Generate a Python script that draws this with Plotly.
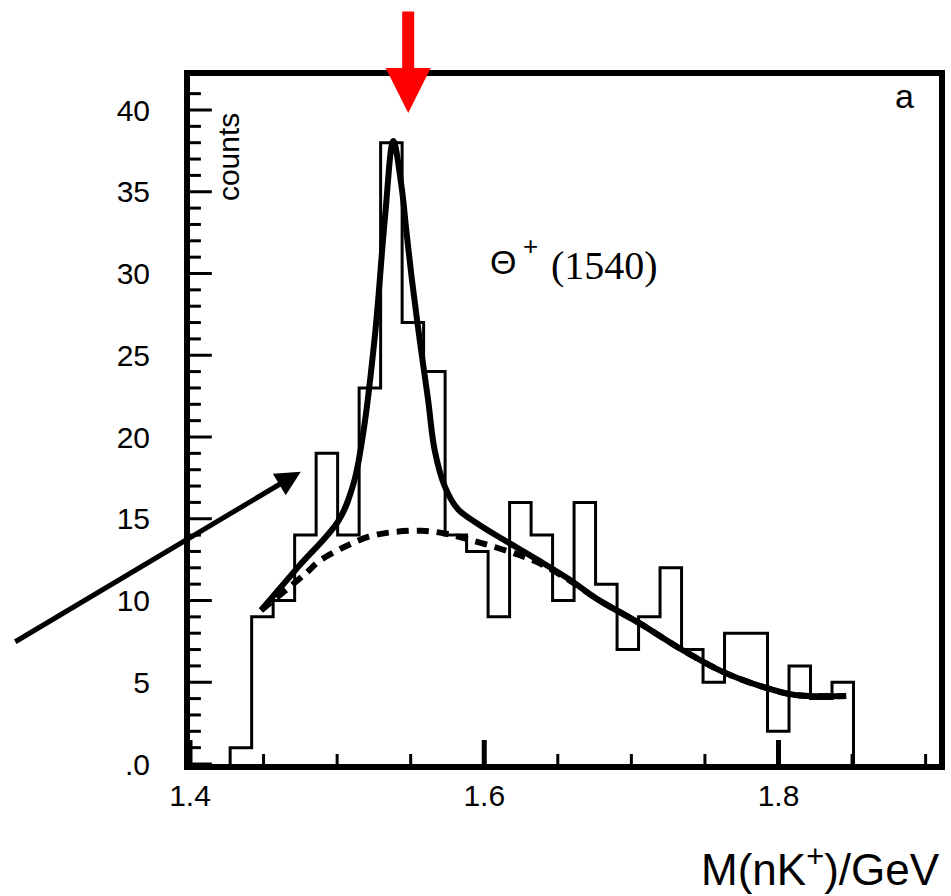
import plotly.graph_objects as go

# ---------------- data ----------------
bin_start = 1.4273          # left edge of first bin (GeV)
bin_width = 0.01461         # bin width (GeV)
counts = [1, 9, 10, 14, 19, 14, 23, 38, 27, 24, 14, 13, 9, 16, 14, 10, 16,
          11, 7, 9, 12, 7, 5, 8, 8, 2, 6, 4, 5]

fit_x = [1.4483, 1.4737, 1.5011, 1.5113, 1.5180, 1.5259, 1.5326, 1.5382,
         1.5438, 1.5472, 1.5506, 1.5562, 1.5618, 1.5663, 1.5731, 1.5820,
         1.5955, 1.6135, 1.6360, 1.6585, 1.6765, 1.7057, 1.7327, 1.7619,
         1.7889, 1.8113, 1.8460]
fit_y = [9.4, 12.07, 14.9, 17.2, 20.4, 26.4, 33.5, 38.1,
         35.3, 32.5, 29.8, 25.9, 22.3, 19.2, 17.0, 15.6,
         14.7, 13.7, 12.5, 11.25, 10.1, 8.6, 7.08, 5.65,
         4.73, 4.22, 4.16]

bg_x = [1.4483, 1.4787, 1.4877, 1.4989, 1.5101, 1.5214, 1.5349, 1.5573,
        1.5731, 1.5866, 1.6023, 1.6200, 1.6360, 1.6585, 1.6765, 1.7057,
        1.7327, 1.7619, 1.7889, 1.8113, 1.8460]
bg_y = [9.4, 11.66, 12.4, 13.0, 13.5, 13.9, 14.15, 14.27,
        14.1, 13.8, 13.4, 12.9, 12.35, 11.2, 10.1, 8.6,
        7.08, 5.65, 4.73, 4.22, 4.16]

y_tickvals = [0, 5, 10, 15, 20, 25, 30, 35, 40]
y_ticktext = [".0", "5", "10", "15", "20", "25", "30", "35", "40"]
y_minor = [v for v in range(1, 42) if v % 5 != 0]
x_tickvals = [1.4, 1.6, 1.8]
x_ticktext = ["1.4", "1.6", "1.8"]
x_minor = [1.45, 1.5, 1.55, 1.65, 1.7, 1.75, 1.85, 1.9]

# ---------------- geometry ----------------
PX_PER_GEV = 1483.0
PX_PER_COUNT = 16.35
L, R, T, B = 190, 6, 76, 132
W, H = 951, 896
x_range = [1.4, 1.4 + (W - L - R) / PX_PER_GEV]
y_range = [0, (H - T - B) / PX_PER_COUNT]

# ---------------- build step histogram ----------------
edges = [bin_start + i * bin_width for i in range(len(counts) + 1)]
hx = [edges[0]] + edges[:-1] + [edges[-1], edges[-1]]
hy = [0] + counts + [counts[-1], 0]

fig = go.Figure()
fig.add_trace(go.Scatter(x=hx, y=hy, mode="lines", line_shape="hv",
                         line=dict(color="black", width=3),
                         showlegend=False, hoverinfo="skip"))
fig.add_trace(go.Scatter(x=bg_x, y=bg_y, mode="lines", line_shape="spline",
                         line=dict(color="black", width=6, dash="12px,8px"),
                         showlegend=False, hoverinfo="skip"))
fig.add_trace(go.Scatter(x=fit_x, y=fit_y, mode="lines", line_shape="spline",
                         line=dict(color="black", width=6),
                         showlegend=False, hoverinfo="skip"))


# ---------------- inward tick marks (as line traces) ----------------
def hticks(vals, length_px):
    xs, ys = [], []
    for v in vals:
        xs += [x_range[0], x_range[0] + length_px / PX_PER_GEV, None]
        ys += [v, v, None]
    return xs, ys


def vticks(vals, length_px):
    xs, ys = [], []
    for v in vals:
        xs += [v, v, None]
        ys += [y_range[0], y_range[0] + length_px / PX_PER_COUNT, None]
    return xs, ys


for (xs, ys), w in [(hticks(y_tickvals, 22), 3), (hticks(y_minor, 11), 3),
                    (vticks(x_tickvals, 24), 5), (vticks(x_minor, 10), 3)]:
    fig.add_trace(go.Scatter(x=xs, y=ys, mode="lines",
                             line=dict(color="black", width=w),
                             showlegend=False, hoverinfo="skip"))

tickfont = dict(family="Liberation Sans", size=30, color="black")

fig.update_layout(
    width=W, height=H,
    margin=dict(l=L, r=R, t=T, b=B, pad=0),
    paper_bgcolor="white", plot_bgcolor="white",
    showlegend=False,
    xaxis=dict(range=x_range, showgrid=False, zeroline=False,
               showline=True, linewidth=6, linecolor="black", mirror=True,
               ticks="", tickmode="array", tickvals=x_tickvals,
               ticktext=x_ticktext, tickfont=tickfont),
    yaxis=dict(range=y_range, showgrid=False, zeroline=False,
               showline=True, linewidth=6, linecolor="black", mirror=True,
               ticks="", tickmode="array", tickvals=y_tickvals,
               ticktext=y_ticktext, tickfont=tickfont, ticklabelstandoff=28),
)

ann = []
# y-axis title "counts" inside the frame
ann.append(dict(x=1.4263, y=37.1, xref="x", yref="y", text="counts",
                textangle=-90, showarrow=False,
                font=dict(family="Liberation Sans", size=30, color="black")))
# panel label
ann.append(dict(x=1.8855, y=40.86, xref="x", yref="y", text="a",
                showarrow=False,
                font=dict(family="Liberation Sans", size=34, color="black")))
# Theta+ (1540)
ann.append(dict(x=1.6023, y=30.7, xref="x", yref="y", text="Θ",
                xanchor="left", yanchor="middle", showarrow=False,
                font=dict(family="Liberation Sans", size=34, color="black")))
ann.append(dict(x=1.6313, y=31.7, xref="x", yref="y", text="+",
                xanchor="center", yanchor="middle", showarrow=False,
                font=dict(family="Liberation Sans", size=26, color="black")))
ann.append(dict(x=1.6441, y=30.46, xref="x", yref="y", text="(1540)",
                xanchor="left", yanchor="middle", showarrow=False,
                font=dict(family="Liberation Serif", size=40, color="black")))
# x-axis title
ann.append(dict(x=1, y=0, xref="paper", yref="paper", text="M(nK<sup>+</sup>)/GeV",
                xanchor="right", yanchor="middle", xshift=3, yshift=-102,
                showarrow=False,
                font=dict(family="Liberation Sans", size=44, color="black")))
# red arrow pointing at the peak
ann.append(dict(x=1.5483, y=39.82, xref="x", yref="y", text="",
                showarrow=True, ax=0, ay=-103, axref="pixel", ayref="pixel",
                arrowhead=2, arrowsize=0.75, arrowwidth=12, arrowcolor="red"))
# black arrow
ann.append(dict(x=1.4753, y=17.88, xref="x", yref="y", text="",
                showarrow=True, ax=-287, ay=171,
                arrowhead=2, arrowsize=1, arrowwidth=5, arrowcolor="black"))
fig.update_layout(annotations=ann)

fig.write_html("out.html")
